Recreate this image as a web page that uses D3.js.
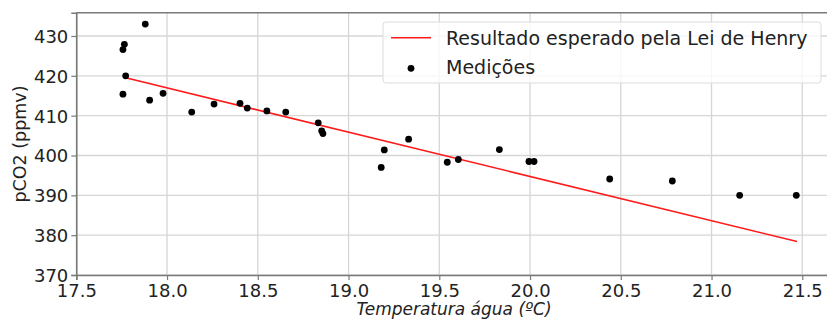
<!DOCTYPE html>
<html>
<head>
<meta charset="utf-8">
<script src="https://cdn.jsdelivr.net/npm/d3@7"></script>
<style>
  body { margin: 0; background: #fff; }
  svg { font-family: "DejaVu Sans", sans-serif; }
</style>
</head>
<body>
<script>
var tempC = [17.757, 17.765, 17.772, 17.757, 17.88, 17.904, 17.978, 18.136, 18.259, 18.402,
  18.442, 18.55, 18.654, 18.833, 18.852, 18.859, 19.18, 19.197, 19.331, 19.544,
  19.605, 19.831, 19.994, 20.022, 20.439, 20.784, 21.155, 21.467];
var pco2 = [426.6, 427.9, 420.0, 415.4, 433.0, 413.9, 415.6, 410.9, 412.9, 413.1,
  411.9, 411.2, 410.9, 408.2, 406.2, 405.5, 397.0, 401.4, 404.1, 398.3,
  399.0, 401.5, 398.5, 398.5, 394.1, 393.6, 390.0, 390.0];

// expected result (Henry's law), straight line
var henryT = [17.772, 21.471];
var henryP = [419.5, 378.4];

var xTicks = [17.5, 18.0, 18.5, 19.0, 19.5, 20.0, 20.5, 21.0, 21.5];
var yTicks = [370, 380, 390, 400, 410, 420, 430];

var width = 827, height = 320;

var svg = d3.select("body").append("svg")
  .attr("width", width)
  .attr("height", height);

var x = d3.scaleLinear().domain([17.5, 21.65]).range([76.3, 829.5]);
var y = d3.scaleLinear().domain([370, 435.85]).range([275, 12.7]);

// grid
svg.append("g").selectAll("line")
  .data(xTicks)
  .enter().append("line")
  .attr("x1", (d) => x(d)).attr("x2", (d) => x(d))
  .attr("y1", y.range()[1]).attr("y2", y.range()[0])
  .style("stroke", "#d6d6d6").style("stroke-width", 1.3);
svg.append("g").selectAll("line")
  .data(yTicks)
  .enter().append("line")
  .attr("x1", x.range()[0]).attr("x2", x.range()[1])
  .attr("y1", (d) => y(d)).attr("y2", (d) => y(d))
  .style("stroke", "#d6d6d6").style("stroke-width", 1.3);

// axes
var xAxis = svg.append("g")
  .attr("transform", "translate(0," + y.range()[0] + ")")
  .call(d3.axisBottom(x).tickValues(xTicks).tickFormat(d3.format(".1f")).tickSizeOuter(0).tickSize(5).tickPadding(4));
var yAxis = svg.append("g")
  .attr("transform", "translate(" + x.range()[0] + ",0)")
  .call(d3.axisLeft(y).tickValues(yTicks).tickSizeOuter(0).tickSize(5).tickPadding(3));

[xAxis, yAxis].forEach((g) => {
  g.select(".domain").style("stroke", "#7a7a7a").style("stroke-width", 1.6);
  g.selectAll(".tick line").style("stroke", "#7a7a7a").style("stroke-width", 1.2);
  g.selectAll(".tick text").style("fill", "#222").style("font-family", "DejaVu Sans").style("font-size", "18px");
});
yAxis.selectAll(".tick text").attr("dy", "0.36em");

// top spine
svg.append("line")
  .attr("x1", x.range()[0]).attr("x2", x.range()[1])
  .attr("y1", y.range()[1]).attr("y2", y.range()[1])
  .style("stroke", "#7a7a7a").style("stroke-width", 1.6);

// Henry line
var line = d3.line().x((d) => x(d[0])).y((d) => y(d[1]));
svg.append("path")
  .datum(d3.zip(henryT, henryP))
  .attr("d", line)
  .style("fill", "none").style("stroke", "#ff1a1a").style("stroke-width", 1.6);

// measurements
svg.append("g").selectAll("circle")
  .data(d3.zip(tempC, pco2))
  .enter().append("circle")
  .attr("cx", (d) => x(d[0]))
  .attr("cy", (d) => y(d[1]))
  .attr("r", 3.4)
  .style("fill", "#000");

// labels
svg.append("text")
  .attr("transform", "translate(26," + 144 + ") rotate(-90)")
  .attr("text-anchor", "middle")
  .style("font-size", "17.5px").style("fill", "#222")
  .text("pCO2 (ppmv)");
svg.append("text")
  .attr("x", 454)
  .attr("y", 315)
  .attr("text-anchor", "middle")
  .style("font-size", "17px").style("font-style", "italic").style("fill", "#222")
  .text("Temperatura água (ºC)");

// legend
var leg = svg.append("g");
leg.append("rect")
  .attr("x", 383).attr("y", 22).attr("width", 438).attr("height", 61).attr("rx", 3)
  .style("fill", "#fff").style("fill-opacity", 0.8).style("stroke", "#dcdcdc").style("stroke-width", 1);
leg.append("line")
  .attr("x1", 391).attr("x2", 431).attr("y1", 37.7).attr("y2", 37.7)
  .style("stroke", "#ff1a1a").style("stroke-width", 1.6);
leg.append("circle")
  .attr("cx", 411).attr("cy", 68.3).attr("r", 3.4).style("fill", "#000");
leg.append("text").attr("x", 446).attr("y", 45).style("font-size", "19px").style("fill", "#222")
  .text("Resultado esperado pela Lei de Henry");
leg.append("text").attr("x", 446).attr("y", 74).style("font-size", "19px").style("fill", "#222")
  .text("Medições");
</script>
</body>
</html>
